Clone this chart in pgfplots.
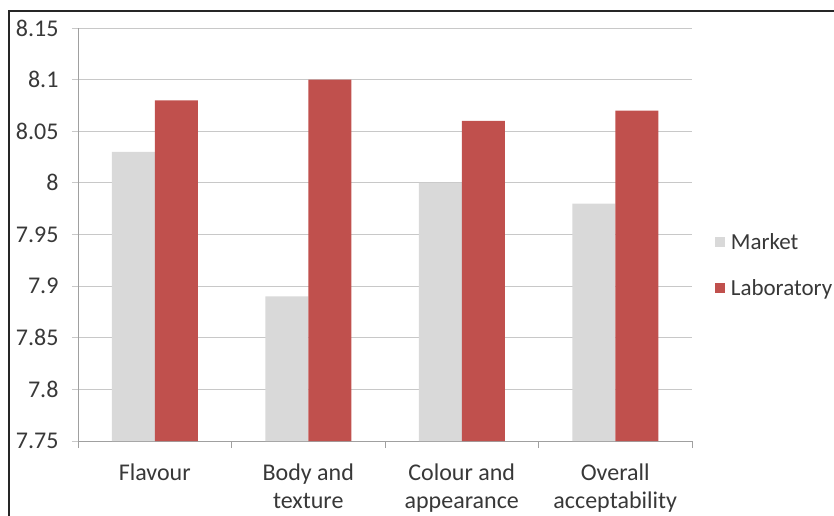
\documentclass[border=0pt]{standalone}
\usepackage{fontspec}
\setmainfont{Carlito}
\usepackage{pgfplots}
\pgfplotsset{compat=1.18}
\definecolor{mkt}{RGB}{217,217,217}
\definecolor{lab}{RGB}{192,80,77}
\definecolor{gridc}{RGB}{200,200,200}
\definecolor{axc}{RGB}{160,160,160}
\begin{document}
\begin{tikzpicture}[x=1pt,y=1pt]
\useasboundingbox (0,0) rectangle (834,515);
\draw[line width=1.3pt, black!85] (9,-20) -- (9,504) -- (860,504);
\begin{axis}[
  at={(78pt,74pt)}, anchor=south west,
  scale only axis, width=614pt, height=413pt,
  ymin=7.75, ymax=8.15,
  ytick={7.75,7.8,7.85,7.9,7.95,8,8.05,8.1,8.15},
  xmin=-0.5, xmax=3.5,
  xtick={0,1,2,3},
  xticklabels={Flavour,{Body and\\texture},{Colour and\\appearance},{Overall\\acceptability}},
  minor xtick={-0.5,0.5,1.5,2.5,3.5},
  separate axis lines,
  axis x line*=bottom, axis y line*=left,
  xtick pos=bottom, ytick pos=left,
  tick align=outside,
  major tick length=6pt, minor tick length=7pt,
  major x tick style={draw=none},
  minor x tick style={axc, line width=1pt},
  major y tick style={gridc, line width=1pt},
  axis line style={axc, line width=1pt},
  ymajorgrids, major grid style={gridc, line width=1pt},
  /pgf/number format/assume math mode=true,
  yticklabel style={/pgf/number format/fixed, /pgf/number format/precision=2, font=\fontsize{24}{28}\selectfont, text=black!78, xshift=-10pt},
  xticklabel style={align=center, font=\fontsize{24}{28.5}\selectfont, text=black!78, yshift=-13pt},
  legend style={at={(1.032,0.426)}, anchor=west, draw=none, fill=none,
    font=\fontsize{23}{27}\selectfont, text=black!78, row sep=25pt,
    /tikz/every odd column/.style={column sep=4pt}},
  legend cell align=left,
  legend image code/.code={\fill[#1] (0pt,-5pt) rectangle (10pt,5pt);},
  clip=true,
]
\addplot[ybar, fill=mkt, draw=none, bar width=43pt, bar shift=-21.5pt] coordinates {(0,8.03) (1,7.89) (2,8.00) (3,7.98)};
\addlegendentry{Market}
\addplot[ybar, fill=lab, draw=none, bar width=43pt, bar shift=21.5pt] coordinates {(0,8.08) (1,8.10) (2,8.06) (3,8.07)};
\addlegendentry{Laboratory}
\end{axis}
\end{tikzpicture}
\end{document}
